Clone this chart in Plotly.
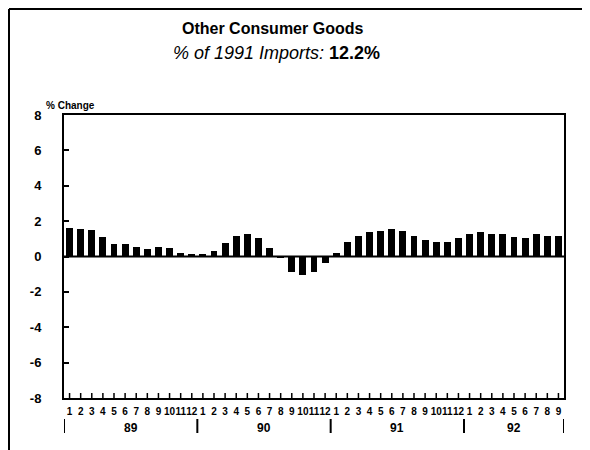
import plotly.graph_objects as go

# ---- data ----
years = ["89", "90", "91", "92"]
months_per_year = [12, 12, 12, 9]
vals_1989 = [1.6, 1.55, 1.5, 1.1, 0.7, 0.7, 0.55, 0.45, 0.55, 0.5, 0.2, 0.15]
vals_1990 = [0.15, 0.3, 0.75, 1.15, 1.25, 1.05, 0.5, -0.1, -0.85, -1.05, -0.9, -0.35]
vals_1991 = [0.2, 0.8, 1.15, 1.4, 1.45, 1.55, 1.42, 1.15, 0.95, 0.8, 0.8, 1.05]
vals_1992 = [1.3, 1.4, 1.3, 1.25, 1.1, 1.05, 1.25, 1.15, 1.15]
y_ticks = [8, 6, 4, 2, 0, -2, -4, -6, -8]
y_tick_labels = ["8", "6", "4", "2", "0", "-2", "-4", "-6", "-8"]

values = vals_1989 + vals_1990 + vals_1991 + vals_1992
month_labels = []
for n in months_per_year:
    month_labels += [str(m) for m in range(1, n + 1)]
xs = list(range(len(values)))

FONT = "Liberation Sans, Arial, sans-serif"

fig = go.Figure()
fig.add_trace(go.Bar(x=xs, y=values, marker=dict(color="black", line=dict(width=0)),
                     width=0.62, hoverinfo="skip"))

shapes = []
# zero line
shapes.append(dict(type="line", xref="paper", yref="y", x0=0, x1=1, y0=0, y1=0,
                   line=dict(color="black", width=2)))
# crossing ticks on bottom axis
for i in xs:
    shapes.append(dict(type="line", xref="x", yref="y", x0=i, x1=i,
                       ysizemode="pixel", yanchor=-8, y0=-5, y1=5,
                       line=dict(color="black", width=1.5)))
# year separators
bounds = [-0.5]
for n in months_per_year:
    bounds.append(bounds[-1] + n)
for b in bounds:
    shapes.append(dict(type="line", xref="x", yref="paper", x0=b, x1=b,
                       ysizemode="pixel", yanchor=0, y0=-21, y1=-35,
                       line=dict(color="black", width=2)))
# outer frame (left and top)
shapes.append(dict(type="line", xref="paper", yref="paper", xsizemode="pixel", ysizemode="pixel",
                   xanchor=0, yanchor=0, x0=-55, x1=-55, y0=-60, y1=389,
                   line=dict(color="black", width=2)))
shapes.append(dict(type="line", xref="paper", yref="paper", xsizemode="pixel", ysizemode="pixel",
                   xanchor=0, yanchor=0, x0=-55, x1=524, y0=389, y1=389,
                   line=dict(color="black", width=2)))

annotations = []
start = 0
for yr, n in zip(years, months_per_year):
    annotations.append(dict(x=start + (n - 1) / 2, y=0, xref="x", yref="paper",
                            text="<b>%s</b>" % yr, showarrow=False, yanchor="middle",
                            yshift=-30, font=dict(family=FONT, size=12, color="black")))
    start += n

annotations.append(dict(x=0.416, y=1, xref="paper", yref="paper", yshift=87,
                        text="<b>Other Consumer Goods</b>", showarrow=False, yanchor="middle",
                        font=dict(family=FONT, size=16, color="black")))
annotations.append(dict(x=0.424, y=1, xref="paper", yref="paper", yshift=62,
                        text="<i>% of 1991 Imports: </i><b>12.2%</b>", showarrow=False,
                        yanchor="middle", font=dict(family=FONT, size=18, color="black")))
annotations.append(dict(x=0, y=1, xref="paper", yref="paper", xshift=-20, yshift=10,
                        text="<b>% Change</b>", showarrow=False, xanchor="left",
                        yanchor="middle", font=dict(family=FONT, size=10, color="black")))

fig.update_layout(
    width=582, height=442, autosize=False,
    margin=dict(l=56, r=26, t=107, b=52),
    paper_bgcolor="white", plot_bgcolor="white",
    showlegend=False, bargap=0,
    font=dict(family=FONT, color="black"),
    xaxis=dict(range=[-0.5, len(values) - 0.5], tickvals=xs, ticktext=month_labels,
               ticks="", showline=True, mirror=True, linecolor="black", linewidth=2,
               showgrid=False, zeroline=False, tickangle=0,
               tickfont=dict(family=FONT, size=10, color="black", weight="bold"),
               ticklabelstandoff=3),
    yaxis=dict(range=[-8, 8], tickvals=y_ticks, ticktext=y_tick_labels,
               ticks="inside", ticklen=5, tickwidth=1.5, tickcolor="black",
               showline=True, mirror=True, linecolor="black", linewidth=2,
               showgrid=False, zeroline=False,
               tickfont=dict(family=FONT, size=13, color="black", weight="bold"),
               ticklabelstandoff=18),
    shapes=shapes, annotations=annotations,
)

fig.write_html("out.html")
